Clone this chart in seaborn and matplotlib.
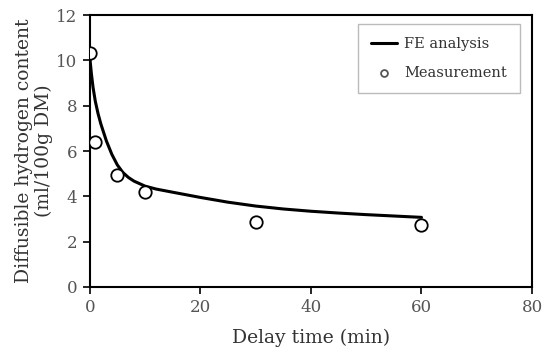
import numpy as np
import pandas as pd
import matplotlib
matplotlib.use("Agg")
import matplotlib.pyplot as plt
import seaborn as sns

# FE analysis curve
fe_time = [0, 0.1, 0.3, 0.6, 1, 1.5, 2, 3, 4, 5, 6, 7, 8, 10, 12, 15,
           20, 25, 30, 35, 40, 45, 50, 55, 60]
fe_content = [10.3, 9.9, 9.4, 8.8, 8.2, 7.65, 7.2, 6.45, 5.85, 5.38, 5.05, 4.83,
              4.67, 4.45, 4.32, 4.18, 3.95, 3.74, 3.57, 3.44, 3.34, 3.26, 3.19,
              3.13, 3.07]

# measured points
meas_time = [0, 1, 5, 10, 30, 60]
meas_content = [10.35, 6.4, 4.92, 4.2, 2.88, 2.72]

x_ticks = [0, 20, 40, 60, 80]
y_ticks = [0, 2, 4, 6, 8, 10, 12]

sns.set_style("white")
plt.rcParams['font.family'] = ['DejaVu Serif']

fe_df = pd.DataFrame({'time': fe_time, 'content': fe_content})
meas_df = pd.DataFrame({'time': meas_time, 'content': meas_content})

fig, ax = plt.subplots(figsize=(5.44, 3.52), dpi=100)
fig.subplots_adjust(left=0.165, right=0.978, top=0.957, bottom=0.185)

sns.lineplot(data=fe_df, x='time', y='content', ax=ax, color='black',
             linewidth=2.2, label='FE analysis')
sns.scatterplot(data=meas_df, x='time', y='content', ax=ax, marker='o',
                s=80, facecolor='white', edgecolor='black', linewidth=1.3,
                label='Measurement', zorder=3)

ax.set_xlim(0, 80)
ax.set_ylim(0, 12)
ax.set_xticks(x_ticks)
ax.set_yticks(y_ticks)
ax.tick_params(axis='both', which='major', bottom=True, left=True,
               direction='out', length=5, width=1.2, color='black',
               labelcolor='#555555', labelsize=12, pad=4)
for sp in ax.spines.values():
    sp.set_color('black')
    sp.set_linewidth(1.5)

ax.set_xlabel('Delay time (min)', fontsize=13.5, color='#333333', labelpad=9)
ax.set_ylabel('Diffusible hydrogen content\n(ml/100g DM)', fontsize=13.5,
              color='#333333', labelpad=2, linespacing=1.15)

leg = ax.legend(loc='upper right', bbox_to_anchor=(0.973, 0.967), frameon=True,
                fancybox=False, edgecolor='#aaaaaa', fontsize=10.5,
                labelspacing=1.0, handlelength=1.8, handletextpad=0.5,
                borderpad=0.9, borderaxespad=0,
                markerscale=0.55, labelcolor='#333333')
leg.get_frame().set_linewidth(1.0)
leg.legend_handles[1].set_edgecolor('#555555')

plt.savefig('out.png', dpi=100)
